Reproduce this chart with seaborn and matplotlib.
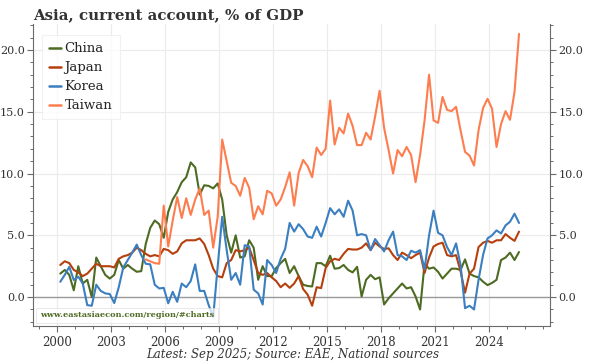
import numpy as np
import pandas as pd
import seaborn as sns
import matplotlib.pyplot as plt
from matplotlib.ticker import MultipleLocator, FixedLocator, FormatStrFormatter

# quarterly, 2000Q1 .. 2025Q3
quarters = pd.period_range("2000Q1", "2025Q3", freq="Q")

china = [1.9, 2.2, 1.8, 0.55, 2.5, 1.1, 1.4, 0.0, 3.2, 2.5, 1.8, 1.5, 1.8, 3.0, 2.3, 2.6,
         2.3, 2.05, 2.1, 4.3, 5.6, 6.2, 5.9, 4.8, 6.9, 7.9, 8.5, 9.3, 9.7, 10.9, 10.5, 8.3,
         9.05, 9.0, 8.8, 9.2, 7.9, 5.0, 3.6, 5.0, 3.2, 3.3, 4.6, 4.0, 1.4, 2.5, 1.7, 1.7,
         2.35, 2.75, 3.1, 1.95, 2.5, 1.7, 1.0, 0.9, 0.86, 2.75, 2.75, 2.5, 3.35, 2.3, 2.35, 2.6,
         2.2, 2.0, 2.45, 0.05, 1.4, 1.8, 1.45, 1.6, -0.6, -0.1, 0.3, 0.7, 1.1, 0.7, 0.8, 0.05,
         -1.0, 2.7, 2.3, 2.4, 2.05, 1.5, 1.9, 2.3, 2.3, 2.2, 3.05, 1.9, 1.7, 1.6, 1.25, 0.97,
         1.15, 1.4, 3.0, 3.2, 3.6, 3.0, 3.65]

japan = [2.6, 2.9, 2.75, 2.2, 2.0, 1.7, 1.9, 2.3, 2.7, 2.5, 2.5, 2.5, 2.4, 3.1, 3.3, 3.4,
         3.6, 4.0, 3.8, 3.5, 3.3, 3.4, 3.3, 3.9, 3.8, 3.5, 3.7, 4.35, 4.6, 4.6, 4.6, 4.75,
         4.3, 3.4, 2.3, 1.7, 1.6, 2.75, 3.0, 3.8, 3.7, 3.8, 4.0, 3.0, 1.95, 1.8, 1.95, 1.6,
         1.3, 0.8, 1.1, 0.75, 1.1, 1.7, 0.65, 0.2, -0.7, 0.8, 0.73, 2.35, 2.9, 3.1, 3.0, 3.5,
         3.9, 3.85, 3.85, 4.0, 4.35, 3.8, 4.4, 4.1, 3.9, 3.95, 3.4, 3.0, 3.6, 3.4, 3.15, 3.4,
         3.6, 1.95, 3.2, 4.1, 4.3, 4.4, 3.4, 3.3, 3.4, 2.1, 0.35, 1.9, 2.3, 4.05, 4.4, 4.55,
         4.4, 4.6, 4.6, 5.1, 4.8, 4.55, 5.3]

korea = [1.24, 1.8, 2.45, 1.38, 1.65, 1.1, -0.65, -0.7, 1.0, 0.5, 0.3, 0.25, -0.48, 0.8, 2.4, 3.0,
         3.6, 4.25, 3.4, 2.7, 2.65, 1.0, 0.7, 0.75, -0.5, 0.43, -0.38, 1.1, 0.8, 1.3, 2.65, 0.5,
         0.5, -0.65, -1.6, 2.5, 6.5, 3.8, 1.4, 1.95, 1.0, 4.2, 4.1, 0.6, 0.3, -0.6, 3.0, 2.6,
         1.95, 3.1, 3.9, 6.0, 5.3, 5.9, 5.5, 4.9, 4.8, 5.7, 4.9, 6.0, 7.2, 6.7, 7.1, 6.5,
         7.8, 7.0, 5.0, 5.1, 5.0, 3.8, 4.7, 4.2, 3.7, 4.6, 5.3, 3.4, 3.3, 3.0, 3.75, 3.6,
         3.8, 2.25, 5.0, 7.0, 5.2, 5.0, 4.05, 3.4, 4.35, 2.6, -0.9, -0.7, -1.0, 1.4, 3.4, 4.75,
         5.0, 5.4, 5.15, 5.8, 6.1, 6.75, 6.0]

taiwan = [np.nan] * 19 + [
    3.05, 2.9, 2.75, 2.7, 7.4, 4.1, 6.2, 8.1, 6.4, 8.0, 6.65, 7.9, 8.8,
    6.65, 7.0, 4.0, 6.5, 12.75, 11.0, 9.25, 9.0, 8.2, 9.65, 8.85, 6.3, 7.35, 6.7, 8.6, 8.4,
    7.4, 7.9, 8.9, 10.1, 7.4, 10.05, 11.1, 10.6, 9.7, 12.1, 11.5, 12.0, 15.9, 12.35, 13.7, 13.25,
    14.85, 13.85, 12.3, 12.3, 13.3, 12.75, 14.6, 16.7, 13.7, 11.9, 10.0, 11.9, 11.4, 12.15, 11.5, 9.3,
    11.5, 14.3, 18.0, 14.3, 14.1, 16.2, 15.15, 15.05, 15.4, 13.5, 11.75, 11.45, 10.65, 13.5, 15.3, 16.05,
    15.25, 12.15, 14.0, 15.05, 14.35, 16.6, 21.3]

countries = ["China", "Japan", "Korea", "Taiwan"]
colors = {"China": "#4d6b22", "Japan": "#b5400e", "Korea": "#3b7fc0", "Taiwan": "#fd7d4e"}
year_ticks = list(range(2000, 2027, 3))

# quarter-end month as a decimal year
xpos = quarters.year + (quarters.end_time.month - 1) / 12

df = pd.DataFrame({"date": xpos, "China": china, "Japan": japan,
                   "Korea": korea, "Taiwan": taiwan})
long_df = df.melt(id_vars="date", var_name="country", value_name="ca")

sns.set_style("white")
plt.rcParams["font.family"] = ["DejaVu Serif"]

fig = plt.figure(figsize=(6, 3.64), dpi=100)
ax = fig.add_axes([0.055, 0.104, 0.862, 0.83])

ax.axhline(0, color="#9a9a9a", lw=1.0, zorder=1)
sns.lineplot(data=long_df, x="date", y="ca", hue="country", hue_order=countries,
             palette=colors, linewidth=1.5, ax=ax, zorder=3)

ax.set_xlim(1998.65, 2027.4)
ax.set_ylim(-2.35, 22.1)
ax.xaxis.set_major_locator(FixedLocator(year_ticks))
ax.xaxis.set_minor_locator(MultipleLocator(1))
ax.xaxis.set_major_formatter(FormatStrFormatter("%d"))
ax.yaxis.set_major_locator(MultipleLocator(5))
ax.yaxis.set_minor_locator(MultipleLocator(1))
ax.yaxis.set_major_formatter(FormatStrFormatter("%.1f"))

ax.grid(which="major", color="#ebebeb", lw=0.8, zorder=0)
ax.set_axisbelow(True)
ax.set_xlabel("")
ax.set_ylabel("")

for side in ["left", "right", "bottom"]:
    ax.spines[side].set_color("#6a6a6a")
    ax.spines[side].set_linewidth(0.8)
ax.spines["top"].set_visible(False)

ax.tick_params(which="both", direction="out", color="#6a6a6a", labelsize=8,
               labelcolor="#333333", left=True, right=True, bottom=True,
               labelleft=True, labelright=True)
ax.tick_params(which="major", length=4, width=0.8, pad=2)
ax.tick_params(which="minor", length=2.5, width=0.7)
ax.tick_params(axis="x", labelsize=8.5, pad=3)

leg = ax.legend(loc="upper left", bbox_to_anchor=(0.005, 0.985), fontsize=9.5,
                handlelength=0.9, handletextpad=0.25, labelspacing=0.45,
                borderpad=0.55, frameon=True, fancybox=False)
leg.get_frame().set_edgecolor("#eeeeee")
leg.get_frame().set_linewidth(0.8)
for line in leg.get_lines():
    line.set_linewidth(1.8)

ax.text(0.013, 0.036, "www.eastasiaecon.com/region/#charts", transform=ax.transAxes,
        fontsize=5.9, fontweight="bold", color="#4d6b22", va="center", ha="left",
        zorder=5, bbox=dict(facecolor="white", alpha=0.75, edgecolor="#dddddd",
                            linewidth=0.6, boxstyle="square,pad=0.45"))

fig.text(0.055, 0.958, "Asia, current account, % of GDP", fontsize=10.8,
         fontweight="bold", color="#333333", ha="left", va="center")
fig.text(0.487, 0.025, "Latest: Sep 2025; Source: EAE, National sources",
         fontsize=8.5, style="italic", color="#333333", ha="center", va="center")

fig.savefig("out.png", dpi=100, facecolor="white")
